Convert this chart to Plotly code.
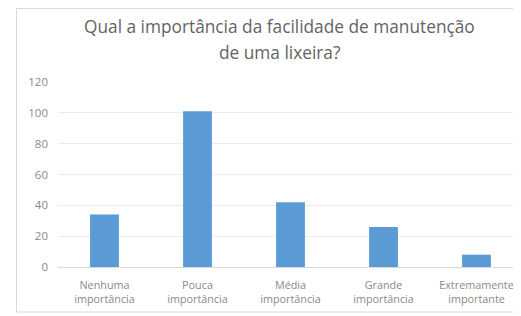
import plotly.graph_objects as go

categories = ["Nenhuma<br>importância", "Pouca<br>importância", "Média<br>importância",
              "Grande<br>importância", "Extremamente<br>importante"]
values = [34, 101, 42, 26, 8]
y_ticks = [0, 20, 40, 60, 80, 100, 120]
title_lines = ["Qual a importância da facilidade de manutenção", "de uma lixeira?"]

# page body adds an 8px offset; figure coordinates below are window - 8
W, H = 515, 308
L, R, T, B = 50, 0, 74, 49
pw, ph = W - L - R, H - T - B

def px_x(p):
    return (p - L) / pw

def px_y(p):
    return (H - B - p) / ph

fig = go.Figure()
fig.add_trace(go.Bar(
    x=list(range(len(categories))), y=values,
    marker=dict(color="#5b9bd5", line=dict(width=0)),
    width=0.31,
))

annotations = []
for txt, ypix in zip(title_lines, [19, 44]):
    annotations.append(dict(
        text=txt, xref="paper", yref="paper", x=px_x(271.5), y=px_y(ypix),
        xanchor="center", yanchor="middle", showarrow=False,
        font=dict(family="Open Sans", size=17.3, color="#646464"),
    ))

fig.update_layout(
    width=W, height=H,
    margin=dict(l=L, r=R, t=T, b=B, pad=0),
    paper_bgcolor="white", plot_bgcolor="white",
    showlegend=False,
    annotations=annotations,
    xaxis=dict(
        range=[-0.5, 4.5],
        tickmode="array", tickvals=list(range(len(categories))), ticktext=categories,
        tickfont=dict(family="Open Sans", size=10.8, color="#8a8a8a"),
        showgrid=False, zeroline=False,
        showline=True, linecolor="#d9d9d9", linewidth=1,
        ticks="", ticklabelstandoff=8,
    ),
    yaxis=dict(
        range=[0, 120], tickmode="array", tickvals=y_ticks,
        tickfont=dict(family="Open Sans", size=11.5, color="#8a8a8a"),
        showgrid=True, gridcolor="#ebebeb", gridwidth=1,
        zeroline=False, showline=False, ticks="", ticklabelstandoff=9,
    ),
    shapes=[dict(
        type="rect", xref="paper", yref="paper",
        x0=px_x(8.5), x1=px_x(511), y0=px_y(304), y1=px_y(0.5),
        line=dict(color="#d9d9d9", width=1), fillcolor="rgba(0,0,0,0)", layer="below",
    )],
)

fig.write_html("out.html")
